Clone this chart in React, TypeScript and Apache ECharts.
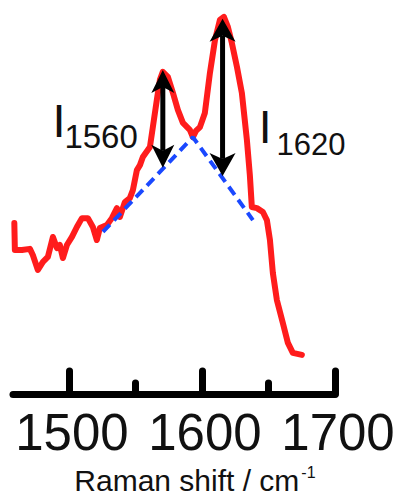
import React, { useEffect, useRef } from "react";
import * as echarts from "echarts";

// Raman spectrum (arbitrary intensity units)
const ramanShift = [
  1459, 1459.4, 1464.7, 1470.7, 1472.9, 1476.7, 1480.5, 1484.2, 1488.0, 1491.0,
  1493.2, 1495.5, 1498.5, 1502.3, 1506.0, 1509.8, 1514.3, 1518.0, 1521.0, 1523.3,
  1528.6, 1532.3, 1536.1, 1538.3, 1542.1, 1545.8, 1548.1, 1551.1, 1553.4, 1555.6,
  1560.9, 1563.1, 1566.1, 1568.4, 1570.6, 1574.4, 1578.2, 1581.9, 1585.7, 1590.9,
  1593.2, 1595.5, 1598.5, 1602.2, 1606.0, 1609.8, 1613.5, 1616.5, 1619.5, 1622.5,
  1626.3, 1630.0, 1633.8, 1636.0, 1637.5, 1641.3, 1645.8, 1648.8, 1651.1, 1653.3,
  1656.3, 1660.8, 1664.6, 1668.3, 1675.1,
];
const intensity = [
  44.5, 37.5, 37.5, 37.8, 36.2, 32.3, 34.4, 35.7, 40.9, 38.0,
  38.8, 35.4, 38.8, 40.9, 43.5, 45.8, 45.8, 43.5, 40.1, 43.2,
  44.0, 45.8, 48.4, 46.1, 50.0, 51.0, 53.1, 58.3, 59.6, 61.7,
  64.3, 69.5, 76.6, 81.8, 83.9, 82.6, 78.4, 74.0, 70.6, 68.8,
  66.9, 68.5, 69.5, 73.2, 83.6, 92.2, 97.4, 98.2, 95.6, 91.4,
  85.2, 78.4, 66.1, 57.0, 48.7, 48.4, 47.4, 45.3, 40.1, 31.5,
  24.5, 18.5, 13.3, 10.7, 10.2,
];

// Dashed background baseline
const baselineShift = [1525.6, 1593.2, 1638.3];
const baselineIntensity = [42.2, 66.9, 45.3];

// Double-headed intensity arrows
const arrowShift = [1570.6, 1615.5];
const arrowTop = [84.4, 97.7];
const arrowBottom = [58.9, 56.8];
const arrowHeadWidth = [23, 26];

// Axis ticks
const majorTicks = [1500, 1600, 1700];
const minorTicks = [1550, 1650];

const FONT = "'Liberation Sans', Arial, Helvetica, sans-serif";

export default function App() {
  const ref = useRef<HTMLDivElement>(null);

  useEffect(() => {
    if (!ref.current) return;
    const chart = echarts.init(ref.current, null, { renderer: "svg" });
    const xMin = 1458;
    const xMax = 1700;
    chart.setOption({
      animation: false,
      backgroundColor: "#ffffff",
      grid: {
        left: 13,
        right: 60,
        top: 10,
        bottom: 103,
        containLabel: false,
        outerBoundsMode: "none",
      },
      xAxis: [
        {
          type: "value",
          min: xMin,
          max: xMax,
          position: "bottom",
          axisLine: { show: true, lineStyle: { color: "#000", width: 7 } },
          axisTick: {
            show: true,
            inside: true,
            length: 23,
            customValues: majorTicks,
            lineStyle: { color: "#000", width: 7, cap: "round" },
          },
          axisLabel: {
            show: true,
            customValues: majorTicks,
            margin: 13,
            padding: [0, 0, 0, 6],
            fontSize: 51,
            color: "#111",
            fontFamily: FONT,
            formatter: (v: number) => String(v),
          },
          splitLine: { show: false },
        },
        {
          type: "value",
          min: xMin,
          max: xMax,
          position: "bottom",
          axisLine: { show: false },
          axisTick: {
            show: true,
            inside: true,
            length: 11,
            customValues: minorTicks,
            lineStyle: { color: "#000", width: 7, cap: "round" },
          },
          axisLabel: { show: false },
          splitLine: { show: false },
        },
      ],
      yAxis: { type: "value", min: 0, max: 100, show: false },
      series: [
        {
          type: "line",
          xAxisIndex: 0,
          data: ramanShift.map((x, i) => [x, intensity[i]]),
          showSymbol: false,
          lineStyle: { color: "#ff1c1c", width: 6, join: "round", cap: "round" },
          z: 2,
        },
        {
          type: "line",
          xAxisIndex: 0,
          data: baselineShift.map((x, i) => [x, baselineIntensity[i]]),
          showSymbol: false,
          lineStyle: { color: "#1a48ff", width: 4, type: [10, 6] },
          z: 3,
        },
      ],
    });

    const graphics: any[] = [];
    arrowShift.forEach((w, i) => {
      const top = chart.convertToPixel({ seriesIndex: 0 }, [w, arrowTop[i]]) as number[];
      const bot = chart.convertToPixel({ seriesIndex: 0 }, [w, arrowBottom[i]]) as number[];
      const x = top[0];
      const hw = arrowHeadWidth[i] / 2;
      const hl = 23;
      const notch = 17;
      graphics.push({
        type: "line",
        z: 10,
        shape: { x1: x, y1: top[1] + notch, x2: x, y2: bot[1] - notch },
        style: { stroke: "#000", lineWidth: 5 },
      });
      graphics.push({
        type: "polygon",
        z: 10,
        shape: {
          points: [
            [x, top[1]],
            [x + hw, top[1] + hl],
            [x, top[1] + notch],
            [x - hw, top[1] + hl],
          ],
        },
        style: { fill: "#000" },
      });
      graphics.push({
        type: "polygon",
        z: 10,
        shape: {
          points: [
            [x, bot[1]],
            [x + hw, bot[1] - hl],
            [x, bot[1] - notch],
            [x - hw, bot[1] - hl],
          ],
        },
        style: { fill: "#000" },
      });
    });

    const txt = (text: string, x: number, y: number, size: number) => ({
      type: "text",
      z: 10,
      x,
      y,
      style: {
        text,
        fontSize: size,
        fontFamily: FONT,
        fill: "#111",
        textAlign: "left",
        textVerticalAlign: "middle",
      },
    });
    graphics.push(txt("I", 52.6, 120.6, 47));
    graphics.push(txt("1560", 64.4, 136.5, 33));
    graphics.push(txt("I", 258.7, 126.9, 46));
    graphics.push(txt("1620", 276.6, 144.2, 31));
    graphics.push(txt("Raman shift / cm", 74.3, 480.5, 30));
    graphics.push(txt("-1", 301.3, 472.7, 16));

    chart.setOption({ graphic: graphics });
    return () => chart.dispose();
  }, []);

  return (
    <div
      ref={ref}
      style={{ position: "fixed", left: 0, top: 0, width: 395, height: 497 }}
    />
  );
}
